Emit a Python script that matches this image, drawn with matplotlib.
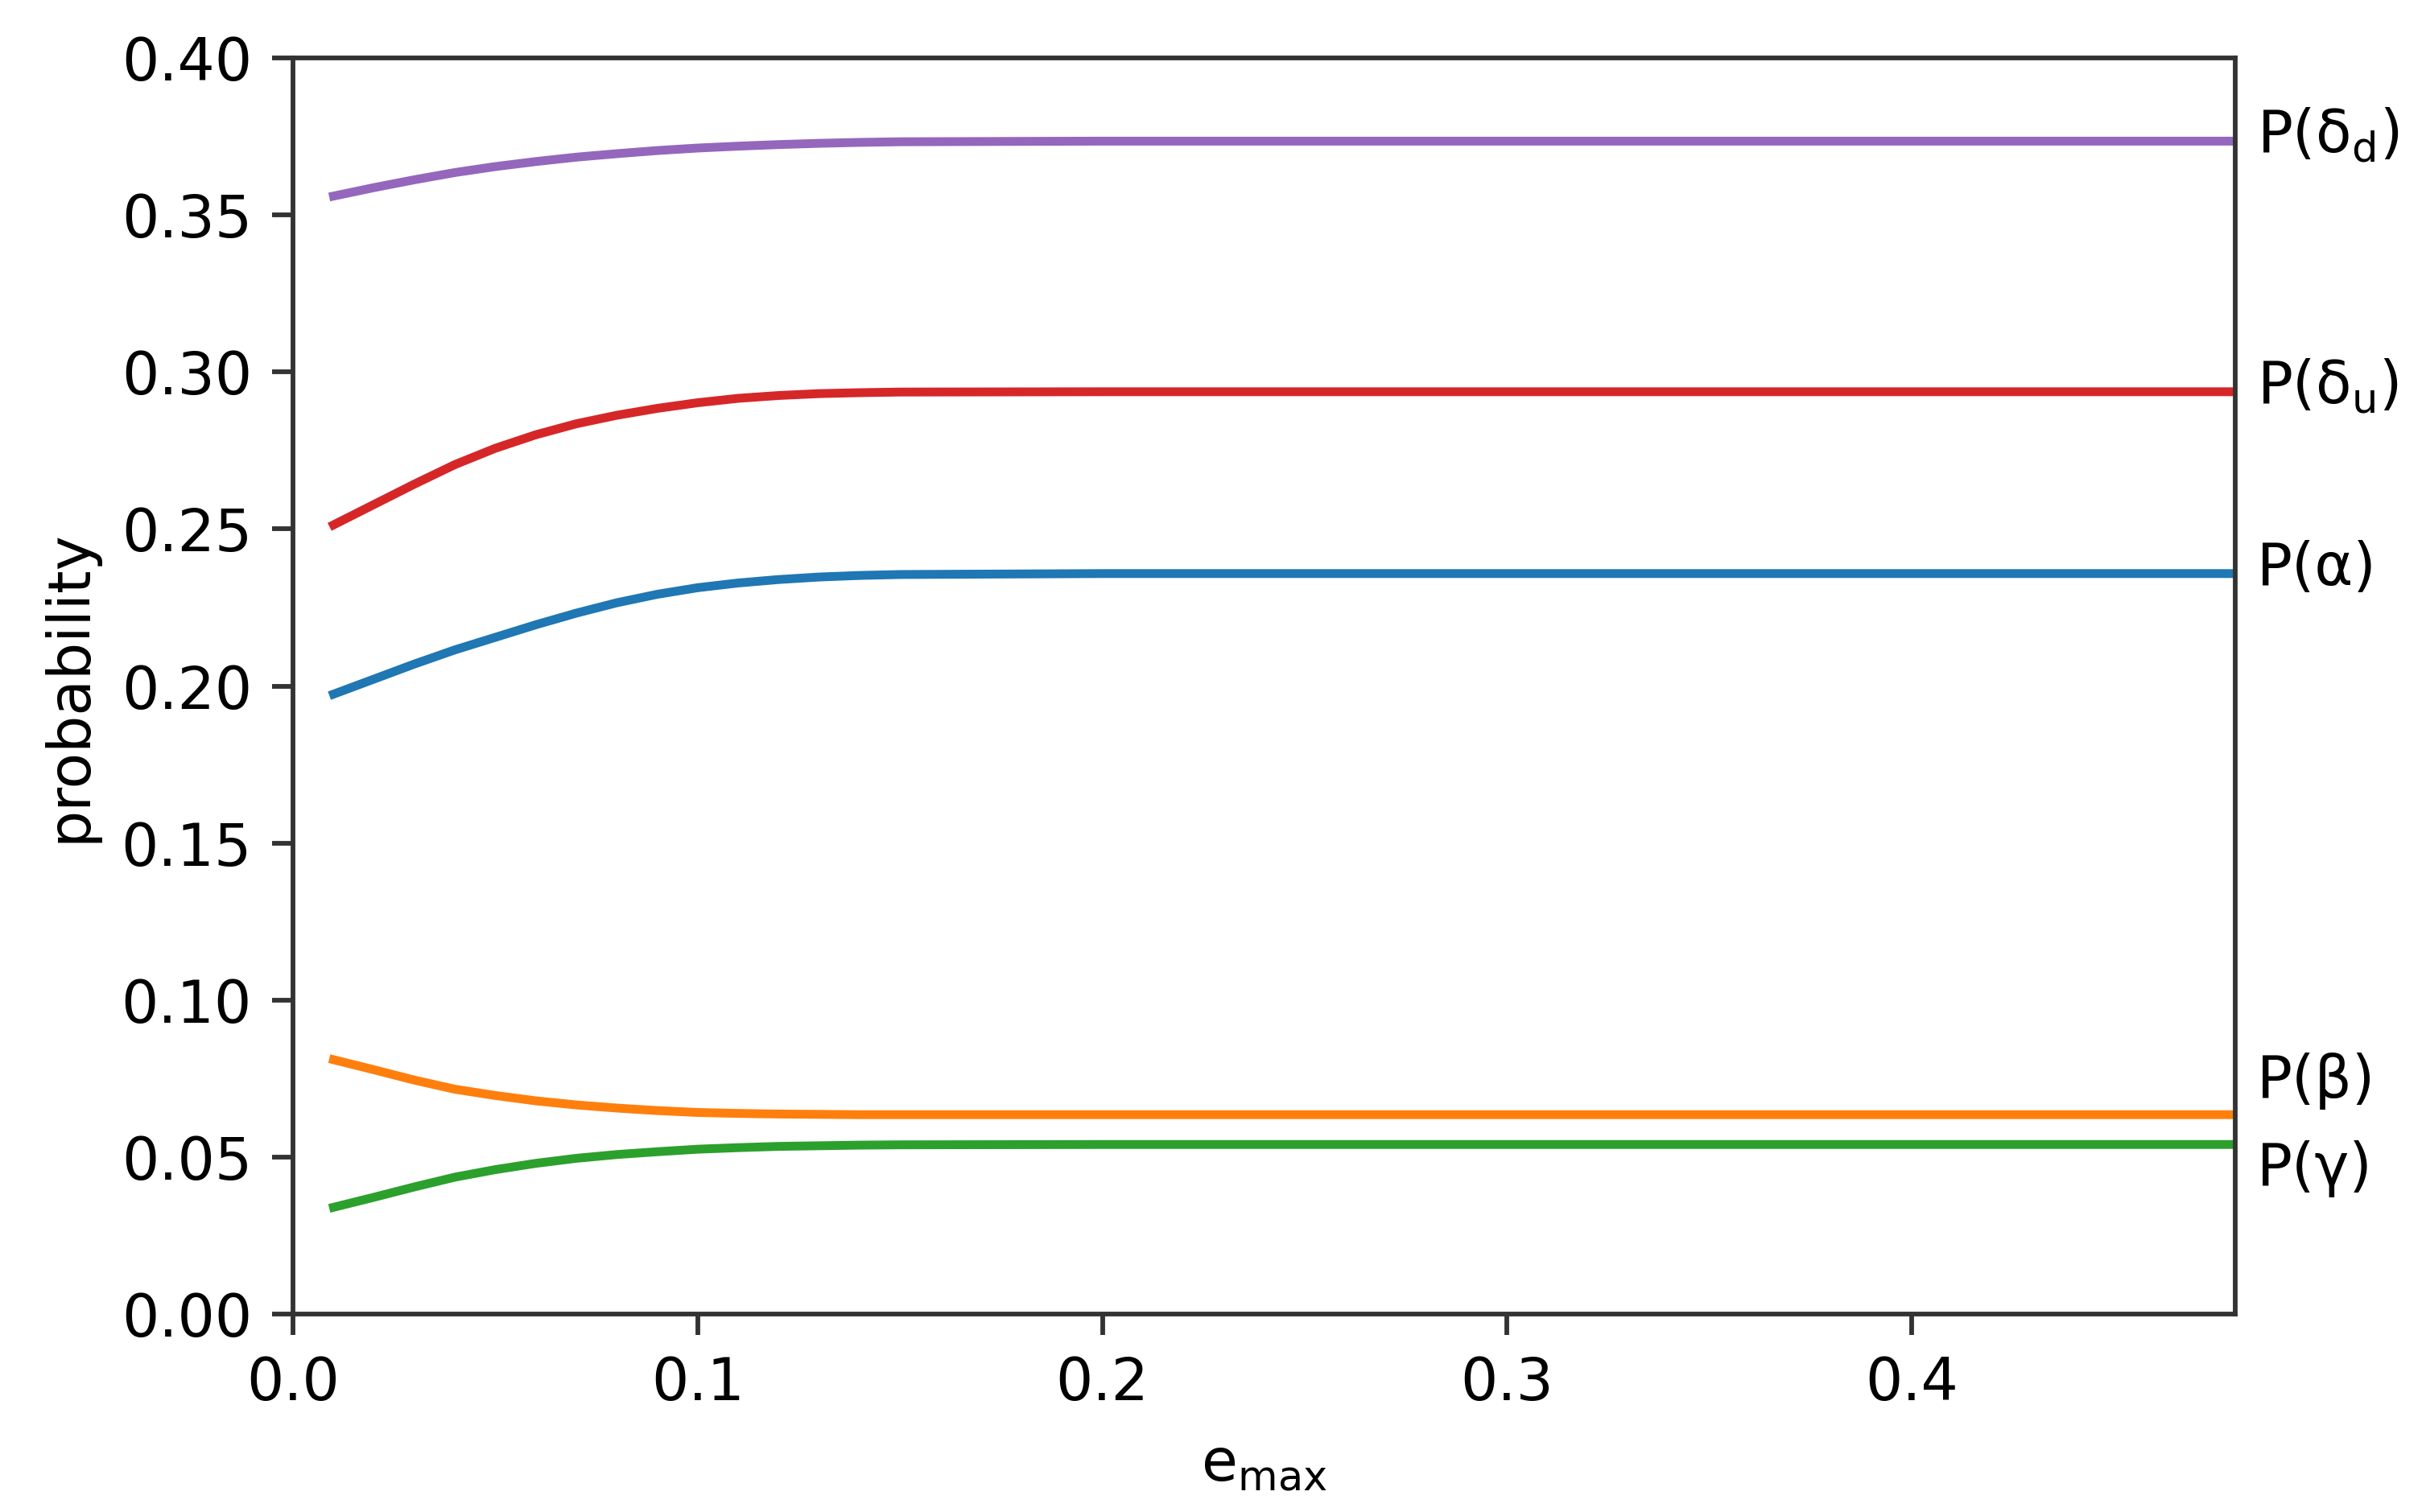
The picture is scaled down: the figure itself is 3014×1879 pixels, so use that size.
import matplotlib
matplotlib.use('Agg')
import matplotlib.pyplot as plt
import matplotlib.transforms as mtransforms

# e_max grid and the probability curves
e_max = [0.01, 0.02, 0.03, 0.04, 0.05, 0.06, 0.07, 0.08, 0.09, 0.10,
         0.11, 0.12, 0.13, 0.14, 0.15, 0.20, 0.30, 0.40, 0.48]

p_alpha = [0.1974, 0.2022, 0.2070, 0.2115, 0.2155, 0.2195, 0.2232, 0.2265, 0.2292, 0.2313,
           0.2328, 0.2339, 0.2347, 0.2352, 0.2355, 0.2358, 0.2358, 0.2358, 0.2358]
p_beta = [0.0810, 0.0778, 0.0745, 0.0716, 0.0696, 0.0679, 0.0666, 0.0656, 0.0648, 0.0642,
          0.0639, 0.0637, 0.0636, 0.0635, 0.0635, 0.0635, 0.0635, 0.0635, 0.0635]
p_gamma = [0.0340, 0.0372, 0.0405, 0.0436, 0.0460, 0.0480, 0.0496, 0.0508, 0.0517, 0.0525,
           0.0530, 0.0534, 0.0536, 0.0538, 0.0539, 0.0540, 0.0540, 0.0540, 0.0540]
p_delta_u = [0.2513, 0.2578, 0.2643, 0.2705, 0.2757, 0.2800, 0.2835, 0.2862, 0.2884, 0.2902,
             0.2916, 0.2925, 0.2931, 0.2934, 0.2936, 0.2937, 0.2937, 0.2937, 0.2937]
p_delta_d = [0.3560, 0.3587, 0.3612, 0.3635, 0.3654, 0.3670, 0.3684, 0.3695, 0.3705, 0.3713,
             0.3719, 0.3724, 0.3728, 0.3731, 0.3733, 0.3735, 0.3735, 0.3735, 0.3735]

labels = ['P(α)', 'P(β)', 'P(γ)', r'P(δ$_\mathrm{u}$)', r'P(δ$_\mathrm{d}$)']
label_y = [0.2373, 0.0742, 0.0462, 0.2953, 0.3754]
series = [p_alpha, p_beta, p_gamma, p_delta_u, p_delta_d]
colors = ['#1f77b4', '#ff7f0e', '#2ca02c', '#d62728', '#9467bd']

plt.rcParams['font.size'] = 10
plt.rcParams['axes.edgecolor'] = '#333333'
plt.rcParams['xtick.color'] = '#333333'
plt.rcParams['ytick.color'] = '#333333'
plt.rcParams['xtick.labelcolor'] = 'black'
plt.rcParams['ytick.labelcolor'] = 'black'

dpi = 525
fig = plt.figure(figsize=(3014 / dpi, 1879 / dpi), dpi=dpi)
ax = fig.add_axes([0.1208, 0.1309, 0.8006, 0.8308])

for vals, c in zip(series, colors):
    ax.plot(e_max, vals, color=c, linewidth=1.5)

ax.set_xlim(0, 0.48)
ax.set_ylim(0, 0.40)
ax.set_xticks([0.0, 0.1, 0.2, 0.3, 0.4])
ax.set_yticks([0.0, 0.05, 0.10, 0.15, 0.20, 0.25, 0.30, 0.35, 0.40])
ax.set_yticklabels(['0.00', '0.05', '0.10', '0.15', '0.20', '0.25', '0.30', '0.35', '0.40'])

# curve names just outside the right edge
trans = mtransforms.blended_transform_factory(ax.transAxes, ax.transData)
for lab, y in zip(labels, label_y):
    ax.text(1.011, y, lab, transform=trans, va='center', ha='left', fontsize=10)

ax.set_xlabel(r'e$_{\mathrm{max}}$')
ax.set_ylabel('probability')

fig.savefig('out.png', dpi=dpi)
